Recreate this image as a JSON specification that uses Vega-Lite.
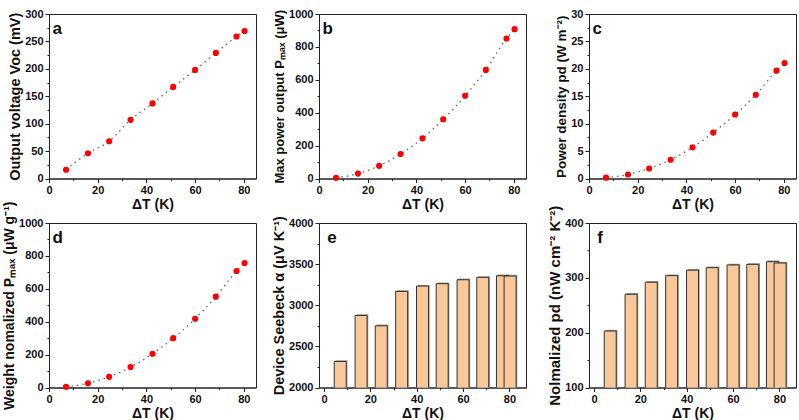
{
  "$schema": "https://vega.github.io/schema/vega-lite/v6.json",
  "padding": {"left": 2, "top": 7, "right": 0, "bottom": 0},
  "background": "white",
  "bounds": "flush",
  "columns": 3,
  "spacing": {"row": 44, "column": 63},
  "datasets": {
    "a": [{"T":7,"v":16},{"T":16,"v":46},{"T":24.7,"v":68},{"T":33.5,"v":107},{"T":42.5,"v":137},{"T":51,"v":167},{"T":60,"v":198},{"T":68.5,"v":229},{"T":77,"v":259},{"T":80.3,"v":269}],
    "b": [{"T":7,"v":4},{"T":16,"v":30},{"T":24.7,"v":77},{"T":33.5,"v":149},{"T":42.5,"v":244},{"T":51,"v":360},{"T":60,"v":503},{"T":68.5,"v":660},{"T":77,"v":851},{"T":80.3,"v":908}],
    "c": [{"T":7,"v":0.15},{"T":16,"v":0.73},{"T":24.7,"v":1.83},{"T":33.5,"v":3.42},{"T":42.5,"v":5.68},{"T":51,"v":8.37},{"T":60,"v":11.67},{"T":68.5,"v":15.27},{"T":77,"v":19.67},{"T":80.3,"v":21.07}],
    "d": [{"T":7,"v":4},{"T":16,"v":26},{"T":24.7,"v":65},{"T":33.5,"v":124},{"T":42.5,"v":205},{"T":51,"v":300},{"T":60,"v":418},{"T":68.5,"v":552},{"T":77,"v":708},{"T":80.3,"v":757}],
    "e": [{"T":7,"v":2316},{"T":16,"v":2876},{"T":24.7,"v":2750},{"T":33.5,"v":3168},{"T":42.5,"v":3233},{"T":51,"v":3262},{"T":60,"v":3310},{"T":68.5,"v":3339},{"T":77,"v":3359},{"T":80.3,"v":3355}],
    "f": [{"T":7,"v":203},{"T":16,"v":270},{"T":24.7,"v":292},{"T":33.5,"v":304},{"T":42.5,"v":314},{"T":51,"v":318.5},{"T":60,"v":323.5},{"T":68.5,"v":324.6},{"T":77,"v":329.5},{"T":80.3,"v":327}]
  },
  "concat": [
    {
      "width": 207, "height": 164.5,
      "layer": [
        {"data": {"name": "a"}, "mark": {"type": "line", "interpolate": "monotone", "strokeDash": [1.5, 4], "color": "#666", "strokeWidth": 1.3},
          "encoding": {
            "x": {"field": "T", "type": "quantitative", "scale": {"domain": [0, 85], "nice": false},
              "axis": {"title": "ΔT (K)", "values": [0,10,20,30,40,50,60,70,80], "labelExpr": "datum.value % 20 === 0 ? datum.label : ''", "tickSize": {"condition": {"test": "datum.value % 20 !== 0", "value": 2}, "value": 4}}},
            "y": {"field": "v", "type": "quantitative", "scale": {"domain": [0, 300], "nice": false},
              "axis": {"title": "Output voltage Voc (mV)", "titleFontSize": 14.5, "values": [0,25,50,75,100,125,150,175,200,225,250,275,300], "labelExpr": "datum.value % 50 === 0 ? datum.label : ''", "tickSize": {"condition": {"test": "datum.value % 50 !== 0", "value": 2}, "value": 4}}}
          }},
        {"data": {"name": "a"}, "mark": {"type": "circle", "size": 38, "color": "#ff0000", "opacity": 1},
          "encoding": {
            "x": {"field": "T", "type": "quantitative", "scale": {"domain": [0, 85], "nice": false},
              "axis": {"title": "ΔT (K)", "values": [0,10,20,30,40,50,60,70,80], "labelExpr": "datum.value % 20 === 0 ? datum.label : ''", "tickSize": {"condition": {"test": "datum.value % 20 !== 0", "value": 2}, "value": 4}}},
            "y": {"field": "v", "type": "quantitative", "scale": {"domain": [0, 300], "nice": false},
              "axis": {"title": "Output voltage Voc (mV)", "titleFontSize": 14.5, "values": [0,25,50,75,100,125,150,175,200,225,250,275,300], "labelExpr": "datum.value % 50 === 0 ? datum.label : ''", "tickSize": {"condition": {"test": "datum.value % 50 !== 0", "value": 2}, "value": 4}}}
          }},
        {"data": {"values": [{"label": "a"}]}, "mark": {"type": "text", "fontSize": 17, "fontWeight": "bold", "align": "left", "baseline": "alphabetic", "color": "#111"},
          "encoding": {
            "x": {"datum": 1.4, "type": "quantitative", "scale": {"domain": [0, 85], "nice": false},
              "axis": {"title": "ΔT (K)", "values": [0,10,20,30,40,50,60,70,80], "labelExpr": "datum.value % 20 === 0 ? datum.label : ''", "tickSize": {"condition": {"test": "datum.value % 20 !== 0", "value": 2}, "value": 4}}},
            "y": {"datum": 263, "type": "quantitative", "scale": {"domain": [0, 300], "nice": false},
              "axis": {"title": "Output voltage Voc (mV)", "titleFontSize": 14.5, "values": [0,25,50,75,100,125,150,175,200,225,250,275,300], "labelExpr": "datum.value % 50 === 0 ? datum.label : ''", "tickSize": {"condition": {"test": "datum.value % 50 !== 0", "value": 2}, "value": 4}}},
            "text": {"field": "label"}}}
      ]
    },
    {
      "width": 207, "height": 164.5,
      "layer": [
        {"data": {"name": "b"}, "mark": {"type": "line", "interpolate": "monotone", "strokeDash": [1.5, 4], "color": "#666", "strokeWidth": 1.3},
          "encoding": {
            "x": {"field": "T", "type": "quantitative", "scale": {"domain": [0, 85], "nice": false},
              "axis": {"title": "ΔT (K)", "values": [0,10,20,30,40,50,60,70,80], "labelExpr": "datum.value % 20 === 0 ? datum.label : ''", "tickSize": {"condition": {"test": "datum.value % 20 !== 0", "value": 2}, "value": 4}}},
            "y": {"field": "v", "type": "quantitative", "scale": {"domain": [0, 1000], "nice": false},
              "axis": {"title": "Max power output Pₘₐₓ (μW)", "titleFontSize": 13, "format": "d", "values": [0,100,200,300,400,500,600,700,800,900,1000], "labelExpr": "datum.value % 200 === 0 ? datum.label : ''", "tickSize": {"condition": {"test": "datum.value % 200 !== 0", "value": 2}, "value": 4}}}
          }},
        {"data": {"name": "b"}, "mark": {"type": "circle", "size": 38, "color": "#ff0000", "opacity": 1},
          "encoding": {
            "x": {"field": "T", "type": "quantitative", "scale": {"domain": [0, 85], "nice": false},
              "axis": {"title": "ΔT (K)", "values": [0,10,20,30,40,50,60,70,80], "labelExpr": "datum.value % 20 === 0 ? datum.label : ''", "tickSize": {"condition": {"test": "datum.value % 20 !== 0", "value": 2}, "value": 4}}},
            "y": {"field": "v", "type": "quantitative", "scale": {"domain": [0, 1000], "nice": false},
              "axis": {"title": "Max power output Pₘₐₓ (μW)", "titleFontSize": 13, "format": "d", "values": [0,100,200,300,400,500,600,700,800,900,1000], "labelExpr": "datum.value % 200 === 0 ? datum.label : ''", "tickSize": {"condition": {"test": "datum.value % 200 !== 0", "value": 2}, "value": 4}}}
          }},
        {"data": {"values": [{"label": "b"}]}, "mark": {"type": "text", "fontSize": 17, "fontWeight": "bold", "align": "left", "baseline": "alphabetic", "color": "#111"},
          "encoding": {
            "x": {"datum": 1.4, "type": "quantitative", "scale": {"domain": [0, 85], "nice": false},
              "axis": {"title": "ΔT (K)", "values": [0,10,20,30,40,50,60,70,80], "labelExpr": "datum.value % 20 === 0 ? datum.label : ''", "tickSize": {"condition": {"test": "datum.value % 20 !== 0", "value": 2}, "value": 4}}},
            "y": {"datum": 878, "type": "quantitative", "scale": {"domain": [0, 1000], "nice": false},
              "axis": {"title": "Max power output Pₘₐₓ (μW)", "titleFontSize": 13, "format": "d", "values": [0,100,200,300,400,500,600,700,800,900,1000], "labelExpr": "datum.value % 200 === 0 ? datum.label : ''", "tickSize": {"condition": {"test": "datum.value % 200 !== 0", "value": 2}, "value": 4}}},
            "text": {"field": "label"}}}
      ]
    },
    {
      "width": 207, "height": 164.5,
      "layer": [
        {"data": {"name": "c"}, "mark": {"type": "line", "interpolate": "monotone", "strokeDash": [1.5, 4], "color": "#666", "strokeWidth": 1.3},
          "encoding": {
            "x": {"field": "T", "type": "quantitative", "scale": {"domain": [0, 85], "nice": false},
              "axis": {"title": "ΔT (K)", "values": [0,10,20,30,40,50,60,70,80], "labelExpr": "datum.value % 20 === 0 ? datum.label : ''", "tickSize": {"condition": {"test": "datum.value % 20 !== 0", "value": 2}, "value": 4}}},
            "y": {"field": "v", "type": "quantitative", "scale": {"domain": [0, 30], "nice": false},
              "axis": {"title": "Power density pd (W m⁻²)", "titleFontSize": 13.5, "values": [0,2.5,5,7.5,10,12.5,15,17.5,20,22.5,25,27.5,30], "labelExpr": "datum.value % 5 === 0 ? datum.label : ''", "tickSize": {"condition": {"test": "datum.value % 5 !== 0", "value": 2}, "value": 4}}}
          }},
        {"data": {"name": "c"}, "mark": {"type": "circle", "size": 38, "color": "#ff0000", "opacity": 1},
          "encoding": {
            "x": {"field": "T", "type": "quantitative", "scale": {"domain": [0, 85], "nice": false},
              "axis": {"title": "ΔT (K)", "values": [0,10,20,30,40,50,60,70,80], "labelExpr": "datum.value % 20 === 0 ? datum.label : ''", "tickSize": {"condition": {"test": "datum.value % 20 !== 0", "value": 2}, "value": 4}}},
            "y": {"field": "v", "type": "quantitative", "scale": {"domain": [0, 30], "nice": false},
              "axis": {"title": "Power density pd (W m⁻²)", "titleFontSize": 13.5, "values": [0,2.5,5,7.5,10,12.5,15,17.5,20,22.5,25,27.5,30], "labelExpr": "datum.value % 5 === 0 ? datum.label : ''", "tickSize": {"condition": {"test": "datum.value % 5 !== 0", "value": 2}, "value": 4}}}
          }},
        {"data": {"values": [{"label": "c"}]}, "mark": {"type": "text", "fontSize": 17, "fontWeight": "bold", "align": "left", "baseline": "alphabetic", "color": "#111"},
          "encoding": {
            "x": {"datum": 1.4, "type": "quantitative", "scale": {"domain": [0, 85], "nice": false},
              "axis": {"title": "ΔT (K)", "values": [0,10,20,30,40,50,60,70,80], "labelExpr": "datum.value % 20 === 0 ? datum.label : ''", "tickSize": {"condition": {"test": "datum.value % 20 !== 0", "value": 2}, "value": 4}}},
            "y": {"datum": 26.3, "type": "quantitative", "scale": {"domain": [0, 30], "nice": false},
              "axis": {"title": "Power density pd (W m⁻²)", "titleFontSize": 13.5, "values": [0,2.5,5,7.5,10,12.5,15,17.5,20,22.5,25,27.5,30], "labelExpr": "datum.value % 5 === 0 ? datum.label : ''", "tickSize": {"condition": {"test": "datum.value % 5 !== 0", "value": 2}, "value": 4}}},
            "text": {"field": "label"}}}
      ]
    },
    {
      "width": 207, "height": 164.5,
      "layer": [
        {"data": {"name": "d"}, "mark": {"type": "line", "interpolate": "monotone", "strokeDash": [1.5, 4], "color": "#666", "strokeWidth": 1.3},
          "encoding": {
            "x": {"field": "T", "type": "quantitative", "scale": {"domain": [0, 85], "nice": false},
              "axis": {"title": "ΔT (K)", "values": [0,10,20,30,40,50,60,70,80], "labelExpr": "datum.value % 20 === 0 ? datum.label : ''", "tickSize": {"condition": {"test": "datum.value % 20 !== 0", "value": 2}, "value": 4}}},
            "y": {"field": "v", "type": "quantitative", "scale": {"domain": [0, 1000], "nice": false},
              "axis": {"title": "Weight nomalized Pₘₐₓ (μW g⁻¹)", "titleFontSize": 14, "format": "d", "values": [0,100,200,300,400,500,600,700,800,900,1000], "labelExpr": "datum.value % 200 === 0 ? datum.label : ''", "tickSize": {"condition": {"test": "datum.value % 200 !== 0", "value": 2}, "value": 4}}}
          }},
        {"data": {"name": "d"}, "mark": {"type": "circle", "size": 38, "color": "#ff0000", "opacity": 1},
          "encoding": {
            "x": {"field": "T", "type": "quantitative", "scale": {"domain": [0, 85], "nice": false},
              "axis": {"title": "ΔT (K)", "values": [0,10,20,30,40,50,60,70,80], "labelExpr": "datum.value % 20 === 0 ? datum.label : ''", "tickSize": {"condition": {"test": "datum.value % 20 !== 0", "value": 2}, "value": 4}}},
            "y": {"field": "v", "type": "quantitative", "scale": {"domain": [0, 1000], "nice": false},
              "axis": {"title": "Weight nomalized Pₘₐₓ (μW g⁻¹)", "titleFontSize": 14, "format": "d", "values": [0,100,200,300,400,500,600,700,800,900,1000], "labelExpr": "datum.value % 200 === 0 ? datum.label : ''", "tickSize": {"condition": {"test": "datum.value % 200 !== 0", "value": 2}, "value": 4}}}
          }},
        {"data": {"values": [{"label": "d"}]}, "mark": {"type": "text", "fontSize": 17, "fontWeight": "bold", "align": "left", "baseline": "alphabetic", "color": "#111"},
          "encoding": {
            "x": {"datum": 1.4, "type": "quantitative", "scale": {"domain": [0, 85], "nice": false},
              "axis": {"title": "ΔT (K)", "values": [0,10,20,30,40,50,60,70,80], "labelExpr": "datum.value % 20 === 0 ? datum.label : ''", "tickSize": {"condition": {"test": "datum.value % 20 !== 0", "value": 2}, "value": 4}}},
            "y": {"datum": 878, "type": "quantitative", "scale": {"domain": [0, 1000], "nice": false},
              "axis": {"title": "Weight nomalized Pₘₐₓ (μW g⁻¹)", "titleFontSize": 14, "format": "d", "values": [0,100,200,300,400,500,600,700,800,900,1000], "labelExpr": "datum.value % 200 === 0 ? datum.label : ''", "tickSize": {"condition": {"test": "datum.value % 200 !== 0", "value": 2}, "value": 4}}},
            "text": {"field": "label"}}}
      ]
    },
    {
      "width": 207, "height": 164.5,
      "layer": [
        {"data": {"name": "e"}, "mark": {"type": "bar", "size": 12, "color": "#9a9a9a", "xOffset": 1.2, "yOffset": -1.2, "clip": true, "opacity": 1},
          "encoding": {
            "x": {"field": "T", "type": "quantitative", "scale": {"domain": [0, 85], "nice": false},
              "axis": {"title": "ΔT (K)", "values": [0,10,20,30,40,50,60,70,80], "labelExpr": "datum.value % 20 === 0 ? datum.label : ''", "tickSize": {"condition": {"test": "datum.value % 20 !== 0", "value": 2}, "value": 4}}},
            "y": {"field": "v", "type": "quantitative", "scale": {"domain": [2000, 4000], "nice": false, "zero": false},
              "axis": {"title": "Device Seebeck α (μV K⁻¹)", "titleFontSize": 14.5, "format": "d", "values": [2000,2250,2500,2750,3000,3250,3500,3750,4000], "labelExpr": "datum.value % 500 === 0 ? datum.label : ''", "tickSize": {"condition": {"test": "datum.value % 500 !== 0", "value": 2}, "value": 4}}}
          }},
        {"data": {"name": "e"}, "mark": {"type": "bar", "size": 12, "color": "#FAC898", "stroke": "#333", "strokeWidth": 1, "clip": true, "opacity": 1},
          "encoding": {
            "x": {"field": "T", "type": "quantitative", "scale": {"domain": [0, 85], "nice": false},
              "axis": {"title": "ΔT (K)", "values": [0,10,20,30,40,50,60,70,80], "labelExpr": "datum.value % 20 === 0 ? datum.label : ''", "tickSize": {"condition": {"test": "datum.value % 20 !== 0", "value": 2}, "value": 4}}},
            "y": {"field": "v", "type": "quantitative", "scale": {"domain": [2000, 4000], "nice": false, "zero": false},
              "axis": {"title": "Device Seebeck α (μV K⁻¹)", "titleFontSize": 14.5, "format": "d", "values": [2000,2250,2500,2750,3000,3250,3500,3750,4000], "labelExpr": "datum.value % 500 === 0 ? datum.label : ''", "tickSize": {"condition": {"test": "datum.value % 500 !== 0", "value": 2}, "value": 4}}}
          }},
        {"data": {"values": [{"label": "e"}]}, "mark": {"type": "text", "fontSize": 17, "fontWeight": "bold", "align": "left", "baseline": "alphabetic", "color": "#111"},
          "encoding": {
            "x": {"datum": 1.4, "type": "quantitative", "scale": {"domain": [0, 85], "nice": false},
              "axis": {"title": "ΔT (K)", "values": [0,10,20,30,40,50,60,70,80], "labelExpr": "datum.value % 20 === 0 ? datum.label : ''", "tickSize": {"condition": {"test": "datum.value % 20 !== 0", "value": 2}, "value": 4}}},
            "y": {"datum": 3756, "type": "quantitative", "scale": {"domain": [2000, 4000], "nice": false, "zero": false},
              "axis": {"title": "Device Seebeck α (μV K⁻¹)", "titleFontSize": 14.5, "format": "d", "values": [2000,2250,2500,2750,3000,3250,3500,3750,4000], "labelExpr": "datum.value % 500 === 0 ? datum.label : ''", "tickSize": {"condition": {"test": "datum.value % 500 !== 0", "value": 2}, "value": 4}}},
            "text": {"field": "label"}}}
      ]
    },
    {
      "width": 207, "height": 164.5,
      "layer": [
        {"data": {"name": "f"}, "mark": {"type": "bar", "size": 12, "color": "#9a9a9a", "xOffset": 1.2, "yOffset": -1.2, "clip": true, "opacity": 1},
          "encoding": {
            "x": {"field": "T", "type": "quantitative", "scale": {"domain": [0, 85], "nice": false},
              "axis": {"title": "ΔT (K)", "values": [0,10,20,30,40,50,60,70,80], "labelExpr": "datum.value % 20 === 0 ? datum.label : ''", "tickSize": {"condition": {"test": "datum.value % 20 !== 0", "value": 2}, "value": 4}}},
            "y": {"field": "v", "type": "quantitative", "scale": {"domain": [100, 400], "nice": false, "zero": false},
              "axis": {"title": "Nolmalized pd (nW cm⁻² K⁻²)", "titleFontSize": 15, "values": [100,150,200,250,300,350,400], "labelExpr": "datum.value % 100 === 0 ? datum.label : ''", "tickSize": {"condition": {"test": "datum.value % 100 !== 0", "value": 2}, "value": 4}}}
          }},
        {"data": {"name": "f"}, "mark": {"type": "bar", "size": 12, "color": "#FAC898", "stroke": "#333", "strokeWidth": 1, "clip": true, "opacity": 1},
          "encoding": {
            "x": {"field": "T", "type": "quantitative", "scale": {"domain": [0, 85], "nice": false},
              "axis": {"title": "ΔT (K)", "values": [0,10,20,30,40,50,60,70,80], "labelExpr": "datum.value % 20 === 0 ? datum.label : ''", "tickSize": {"condition": {"test": "datum.value % 20 !== 0", "value": 2}, "value": 4}}},
            "y": {"field": "v", "type": "quantitative", "scale": {"domain": [100, 400], "nice": false, "zero": false},
              "axis": {"title": "Nolmalized pd (nW cm⁻² K⁻²)", "titleFontSize": 15, "values": [100,150,200,250,300,350,400], "labelExpr": "datum.value % 100 === 0 ? datum.label : ''", "tickSize": {"condition": {"test": "datum.value % 100 !== 0", "value": 2}, "value": 4}}}
          }},
        {"data": {"values": [{"label": "f"}]}, "mark": {"type": "text", "fontSize": 17, "fontWeight": "bold", "align": "left", "baseline": "alphabetic", "color": "#111"},
          "encoding": {
            "x": {"datum": 1.4, "type": "quantitative", "scale": {"domain": [0, 85], "nice": false},
              "axis": {"title": "ΔT (K)", "values": [0,10,20,30,40,50,60,70,80], "labelExpr": "datum.value % 20 === 0 ? datum.label : ''", "tickSize": {"condition": {"test": "datum.value % 20 !== 0", "value": 2}, "value": 4}}},
            "y": {"datum": 363, "type": "quantitative", "scale": {"domain": [100, 400], "nice": false, "zero": false},
              "axis": {"title": "Nolmalized pd (nW cm⁻² K⁻²)", "titleFontSize": 15, "values": [100,150,200,250,300,350,400], "labelExpr": "datum.value % 100 === 0 ? datum.label : ''", "tickSize": {"condition": {"test": "datum.value % 100 !== 0", "value": 2}, "value": 4}}},
            "text": {"field": "label"}}}
      ]
    }
  ],
  "config": {
    "font": "Liberation Sans",
    "view": {"stroke": "#222", "strokeWidth": 1},
    "axis": {
      "labelFont": "Liberation Sans", "labelFontSize": 11, "labelFontWeight": "bold", "labelColor": "#111",
      "labelFlush": false, "labelOverlap": false, "labelPadding": 2,
      "titleFont": "Liberation Sans", "titleFontSize": 14, "titleFontWeight": "bold", "titleColor": "#111",
      "titlePadding": 2,
      "domainColor": "#222", "tickColor": "#222", "grid": false
    }
  }
}
